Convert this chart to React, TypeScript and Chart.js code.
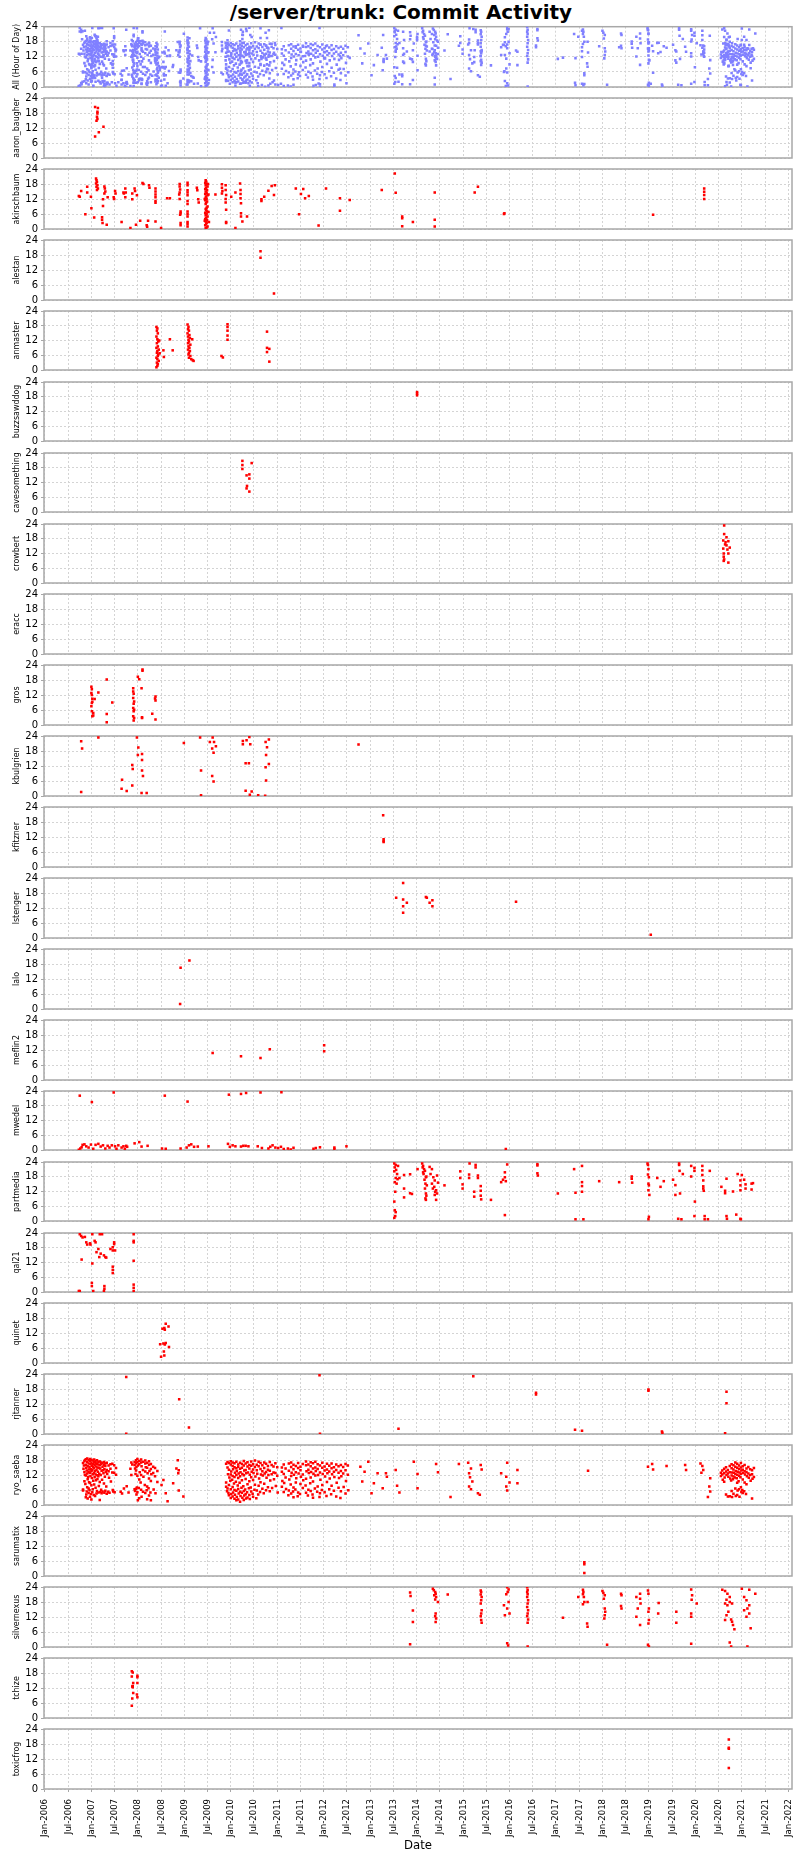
import React, { useEffect, useRef } from 'react';
import { Chart, registerables } from 'chart.js';

Chart.register(...registerables);

// ---------- axis data ----------
const X_MIN = 2005.98;
const X_MAX = 2022.08;
const X_TICK_VALUES = [
  2006, 2006.5, 2007, 2007.5, 2008, 2008.5, 2009, 2009.5, 2010, 2010.5, 2011, 2011.5,
  2012, 2012.5, 2013, 2013.5, 2014, 2014.5, 2015, 2015.5, 2016, 2016.5, 2017, 2017.5,
  2018, 2018.5, 2019, 2019.5, 2020, 2020.5, 2021, 2021.5, 2022,
];
const X_TICK_LABELS = [
  'Jan-2006', 'Jul-2006', 'Jan-2007', 'Jul-2007', 'Jan-2008', 'Jul-2008', 'Jan-2009', 'Jul-2009',
  'Jan-2010', 'Jul-2010', 'Jan-2011', 'Jul-2011', 'Jan-2012', 'Jul-2012', 'Jan-2013', 'Jul-2013',
  'Jan-2014', 'Jul-2014', 'Jan-2015', 'Jul-2015', 'Jan-2016', 'Jul-2016', 'Jan-2017', 'Jul-2017',
  'Jan-2018', 'Jul-2018', 'Jan-2019', 'Jul-2019', 'Jan-2020', 'Jul-2020', 'Jan-2021', 'Jul-2021',
  'Jan-2022',
];
const Y_TICKS = [0, 6, 12, 18, 24];

const TITLE = '/server/trunk: Commit Activity';
const ALL_LABEL = 'All (Hour of Day)';
const X_TITLE = 'Date';

const AUTHORS = [
  'aaron_baugher', 'akirschbaum', 'alestan', 'anmaster', 'buzzsawddog', 'cavesomething',
  'crowbert', 'eracc', 'gros', 'kbulgrien', 'kfitzner', 'lstenger', 'lalo', 'meflin2',
  'mwedel', 'partmedia', 'qal21', 'quinet', 'rjtanner', 'ryo_saeba', 'sarumatix',
  'silvernexus', 'tchize', 'toxicfrog',
];

// ---------- commit data: [year, hour, year, hour, ...] ----------
const aaronBaugher = [
  2007.08, 20.4, 2007.14, 20.0, 2007.13, 18.5, 2007.13, 17.8, 2007.12, 16.5, 2007.11, 14.9,
  2007.13, 15.6, 2007.26, 12.5, 2007.16, 10.3, 2007.08, 8.6,
];

const akirschbaum = [
  2006.73, 13.2, 2006.75, 12.9, 2006.78, 15.2, 2006.87, 5.9, 2006.91, 16.9, 2006.91, 14.6,
  2006.99, 12.9, 2007.0, 8.3, 2007.06, 4.6,
  2007.1, 20.2, 2007.11, 19.5, 2007.12, 18.8, 2007.1, 18.2, 2007.13, 17.5, 2007.11, 16.9,
  2007.14, 16.2, 2007.12, 15.6,
  2007.23, 4.7, 2007.23, 3.7, 2007.24, 2.4, 2007.25, 11.9, 2007.25, 9.2, 2007.28, 17.0,
  2007.29, 16.2, 2007.3, 15.0, 2007.28, 14.2, 2007.33, 1.7, 2007.35, 12.7,
  2007.48, 12.7, 2007.49, 12.0, 2007.51, 15.2, 2007.52, 14.2, 2007.65, 2.8, 2007.69, 14.6,
  2007.7, 14.2, 2007.73, 16.2, 2007.74, 14.6, 2007.73, 12.7, 2007.84, 0.4, 2007.88, 14.2,
  2007.88, 11.9, 2007.93, 16.2, 2007.94, 15.2, 2007.96, 1.7, 2007.98, 13.5, 2008.05, 3.3,
  2008.1, 18.4, 2008.12, 18.0, 2008.19, 1.5, 2008.2, 0.9, 2008.22, 3.3, 2008.24, 17.5,
  2008.25, 16.5,
  2008.38, 16.2, 2008.38, 15.0, 2008.38, 13.8, 2008.38, 12.7, 2008.38, 11.2, 2008.38, 10.5,
  2008.38, 3.0, 2008.5, 0.4, 2008.63, 12.3, 2008.69, 12.3,
  2008.9, 18.0, 2008.9, 17.0, 2008.91, 15.8, 2008.9, 14.6, 2008.89, 13.8, 2008.9, 12.0,
  2008.92, 7.0, 2008.92, 6.3, 2008.91, 5.7, 2008.92, 2.4, 2008.92, 1.5,
  2009.07, 18.5, 2009.07, 17.5, 2009.07, 15.5, 2009.07, 14.6, 2009.07, 13.5, 2009.07, 11.2,
  2009.07, 10.0, 2009.07, 7.0, 2009.07, 6.0, 2009.07, 5.0, 2009.07, 2.8, 2009.07, 2.0,
  2009.07, 1.0,
  2009.27, 16.5, 2009.28, 15.5, 2009.3, 11.9, 2009.31, 10.6,
  2009.46, 19.5, 2009.47, 19.0, 2009.45, 18.5, 2009.48, 18.0, 2009.46, 17.5, 2009.5, 17.0,
  2009.47, 16.5, 2009.45, 16.0, 2009.49, 15.5, 2009.46, 15.0, 2009.48, 14.5, 2009.45, 14.0,
  2009.5, 13.5, 2009.47, 13.0, 2009.46, 12.5, 2009.48, 12.0, 2009.45, 11.5, 2009.49, 11.0,
  2009.47, 10.5, 2009.46, 10.0, 2009.5, 9.0, 2009.48, 8.5, 2009.46, 8.0, 2009.47, 7.5,
  2009.49, 7.0, 2009.45, 6.5, 2009.48, 6.0, 2009.46, 5.5, 2009.5, 5.0, 2009.47, 4.5,
  2009.45, 4.0, 2009.49, 3.5, 2009.46, 3.0, 2009.48, 2.5, 2009.47, 2.0, 2009.45, 1.5,
  2009.5, 1.0, 2009.48, 0.6, 2009.46, 0.3, 2009.52, 13.8, 2009.52, 6.8, 2009.53, 2.8,
  2009.44, 12.0, 2009.51, 18.0, 2009.44, 3.3,
  2009.67, 13.8, 2009.81, 17.9, 2009.81, 16.5, 2009.82, 15.2, 2009.81, 14.2, 2009.89, 17.5,
  2009.89, 15.6, 2009.9, 13.6, 2009.89, 12.0, 2009.89, 10.6, 2009.9, 7.7, 2009.9, 2.8,
  2009.9, 2.4, 2010.01, 12.9, 2010.1, 14.6, 2010.1, 0.4, 2010.2, 18.2, 2010.21, 15.6,
  2010.21, 14.0, 2010.21, 12.3, 2010.22, 10.3, 2010.22, 6.3, 2010.22, 5.0, 2010.25, 3.0,
  2010.35, 5.0,
  2010.66, 11.9, 2010.66, 11.2, 2010.72, 12.9, 2010.81, 15.3, 2010.88, 17.2, 2010.93, 13.6,
  2010.95, 17.5, 2011.4, 16.2, 2011.47, 5.9, 2011.51, 14.0, 2011.56, 16.0, 2011.6, 12.3,
  2011.68, 13.2, 2011.89, 1.4, 2012.05, 16.2, 2012.35, 12.3, 2012.35, 7.3, 2012.56, 11.6,
  2013.25, 15.6, 2013.53, 22.2, 2013.55, 14.5, 2013.69, 5.0, 2013.69, 4.3, 2013.69, 1.1,
  2013.92, 2.8, 2014.39, 14.6, 2014.39, 3.7, 2014.39, 1.0, 2015.25, 14.6, 2015.32, 16.9,
  2015.88, 6.0, 2015.89, 6.3, 2019.09, 5.7, 2020.19, 16.2, 2020.19, 14.9, 2020.19, 13.6,
  2020.19, 12.0,
];

const alestan = [2010.64, 19.5, 2010.64, 16.9, 2010.93, 2.6];

const anmaster = [
  2008.4, 17.5, 2008.42, 16.9, 2008.41, 16.0, 2008.43, 14.9, 2008.4, 13.6, 2008.42, 12.5,
  2008.44, 11.6, 2008.41, 10.9, 2008.43, 9.6, 2008.4, 9.0, 2008.45, 8.3, 2008.42, 7.7,
  2008.41, 7.0, 2008.44, 6.3, 2008.43, 5.7, 2008.4, 5.0, 2008.42, 4.4, 2008.45, 3.7,
  2008.41, 3.0, 2008.43, 2.4, 2008.42, 1.7, 2008.4, 1.1, 2008.46, 12.0, 2008.47, 6.8,
  2008.69, 12.5, 2008.75, 8.0, 2008.56, 5.3, 2008.55, 8.0,
  2009.07, 18.5, 2009.09, 17.5, 2009.08, 16.6, 2009.1, 16.0, 2009.07, 14.9, 2009.11, 14.2,
  2009.08, 13.6, 2009.12, 13.0, 2009.09, 12.3, 2009.1, 11.6, 2009.08, 10.9, 2009.13, 10.3,
  2009.09, 9.6, 2009.11, 9.0, 2009.08, 8.3, 2009.12, 7.7, 2009.1, 7.0, 2009.09, 6.3,
  2009.13, 5.7, 2009.1, 5.0, 2009.15, 4.4, 2009.2, 3.7, 2009.18, 4.0, 2009.17, 12.5,
  2009.8, 5.7, 2009.83, 5.1,
  2009.93, 18.6, 2009.93, 17.5, 2009.93, 16.0, 2009.93, 14.0, 2009.93, 12.3,
  2010.78, 15.6, 2010.78, 9.0, 2010.78, 7.3, 2010.83, 8.6, 2010.83, 3.4,
];

const buzzsawddog = [2014.01, 19.9, 2014.01, 19.3, 2014.01, 18.6];

const cavesomething = [
  2010.25, 20.8, 2010.25, 19.1, 2010.25, 17.5, 2010.45, 19.9, 2010.34, 14.9, 2010.4, 15.3,
  2010.4, 13.6, 2010.35, 10.6, 2010.34, 9.6, 2010.4, 8.3,
];

const crowbert = [
  2020.62, 23.4, 2020.62, 19.9, 2020.6, 17.3, 2020.71, 17.0, 2020.64, 15.7, 2020.67, 15.3,
  2020.74, 14.4, 2020.6, 14.0, 2020.69, 13.6, 2020.61, 12.0, 2020.71, 12.0, 2020.61, 10.7,
  2020.62, 9.6, 2020.71, 8.3, 2020.61, 9.0, 2020.67, 18.6, 2020.65, 16.6,
];

const eracc: number[] = [];

const gros = [
  2007.0, 15.3, 2007.01, 14.3, 2007.01, 12.0, 2007.02, 9.3, 2007.01, 8.8, 2007.0, 7.5,
  2007.01, 5.5, 2007.04, 4.8, 2007.04, 3.8, 2007.02, 3.5, 2007.0, 12.8, 2007.02, 10.5,
  2007.07, 10.4, 2007.15, 13.0, 2007.33, 18.2, 2007.33, 4.4, 2007.33, 1.1, 2007.45, 9.0,
  2007.9, 14.7, 2007.91, 12.5, 2007.9, 10.8, 2007.92, 9.4, 2007.91, 8.5, 2007.9, 6.8,
  2007.92, 6.1, 2007.91, 5.5, 2007.9, 3.5, 2007.92, 2.8, 2007.91, 1.8, 2007.9, 13.4,
  2008.0, 19.3, 2008.03, 18.3, 2008.1, 22.2, 2008.1, 21.7, 2008.08, 14.7, 2008.09, 3.1,
  2008.09, 2.8, 2008.31, 4.5, 2008.38, 11.4, 2008.38, 9.8, 2008.38, 2.2, 2008.37, 10.6,
];

const kbulgrien = [
  2006.78, 21.9, 2006.8, 19.0, 2006.78, 1.6, 2007.15, 23.4, 2007.66, 6.5, 2007.65, 2.9,
  2007.76, 2.0, 2007.88, 4.2, 2007.88, 12.4, 2007.89, 10.8, 2007.98, 23.4, 2008.01, 19.4,
  2008.0, 16.4, 2008.09, 16.8, 2008.09, 14.4, 2008.09, 10.2, 2008.11, 8.0, 2008.08, 1.2,
  2008.19, 1.2, 2008.99, 21.2, 2009.34, 23.4, 2009.36, 10.2, 2009.36, 0.3, 2009.55, 21.6,
  2009.61, 23.4, 2009.64, 21.6, 2009.68, 19.9, 2009.6, 19.0, 2009.63, 17.3, 2009.6, 8.0,
  2009.63, 5.8, 2010.26, 22.0, 2010.26, 20.7, 2010.34, 22.3, 2010.4, 23.6, 2010.42, 20.7,
  2010.39, 13.1, 2010.32, 13.1, 2010.32, 2.1, 2010.45, 1.8, 2010.41, 0.5, 2010.59, 0.3,
  2010.75, 21.6, 2010.82, 22.6, 2010.78, 19.5, 2010.76, 16.4, 2010.82, 12.8, 2010.75, 11.5,
  2010.76, 6.2, 2010.74, 0.1, 2012.75, 20.6,
];

const kfitzner = [2013.28, 20.7, 2013.29, 11.1, 2013.29, 10.4, 2013.29, 10.0];

const lstenger = [
  2013.71, 22.0, 2013.56, 16.1, 2013.71, 15.4, 2013.79, 14.1, 2013.71, 12.7, 2013.71, 10.1,
  2014.2, 16.4, 2014.22, 16.1, 2014.34, 15.1, 2014.28, 14.1, 2014.34, 12.7, 2016.14, 14.5,
  2019.04, 1.3,
];

const lalo = [2009.11, 19.4, 2008.92, 16.5, 2008.91, 2.0];

const meflin2 = [2009.61, 10.8, 2010.22, 9.5, 2010.64, 8.8, 2010.84, 12.3, 2012.01, 13.9, 2012.01, 11.5];

const mwedel = [
  2006.73, 0.1, 2006.76, 0.6, 2006.79, 1.1, 2006.81, 2.1, 2006.85, 2.3, 2006.89, 1.5,
  2006.94, 1.0, 2006.99, 2.2, 2007.04, 0.5, 2007.09, 2.1, 2007.15, 2.5, 2007.2, 1.4,
  2007.25, 1.9, 2007.3, 0.6, 2007.35, 1.7, 2007.39, 1.0, 2007.44, 1.9, 2007.51, 1.5,
  2007.54, 0.5, 2007.58, 1.9, 2007.65, 1.0, 2007.69, 1.5, 2007.72, 0.5, 2007.75, 1.7,
  2007.77, 1.3, 2007.93, 2.7, 2008.03, 3.2, 2008.08, 1.4, 2008.21, 1.7, 2008.52, 0.6,
  2008.6, 0.5, 2008.92, 0.6, 2009.05, 1.0, 2009.1, 1.9, 2009.15, 2.3, 2009.21, 1.3,
  2009.29, 1.4, 2009.52, 1.5, 2009.94, 2.5, 2009.98, 1.3, 2010.04, 1.9, 2010.1, 1.5,
  2010.22, 1.4, 2010.27, 1.7, 2010.32, 1.7, 2010.38, 1.5, 2010.58, 1.5, 2010.67, 0.8,
  2010.81, 0.6, 2010.85, 1.3, 2010.9, 1.9, 2010.96, 1.0, 2011.02, 0.8, 2011.08, 1.3,
  2011.14, 0.4, 2011.23, 0.6, 2011.29, 0.2, 2011.35, 0.9, 2011.78, 0.5, 2011.83, 0.8,
  2011.92, 1.1, 2012.23, 1.0, 2012.23, 0.4, 2012.49, 1.5, 2015.92, 0.4,
  2006.75, 22.1, 2007.01, 19.5, 2007.48, 23.4, 2008.58, 22.1, 2009.07, 19.7, 2009.96, 22.5,
  2010.22, 22.8, 2010.33, 23.2, 2010.64, 23.4, 2011.09, 23.5,
];

const partmedia = [
  2013.52, 23.4, 2013.55, 22.8, 2013.53, 21.8, 2013.56, 20.8, 2013.52, 20.2, 2013.58, 19.1,
  2013.55, 17.5, 2013.53, 15.8, 2013.57, 15.2, 2013.54, 11.9, 2013.52, 7.9, 2013.53, 4.4,
  2013.55, 3.6, 2013.54, 2.0, 2013.52, 1.3, 2013.6, 22.4, 2013.59, 17.0,
  2013.63, 17.5, 2013.73, 18.7, 2013.73, 13.2, 2013.73, 9.6, 2013.86, 19.0, 2013.86, 11.3,
  2013.9, 11.0, 2014.02, 21.1,
  2014.12, 23.4, 2014.14, 22.4, 2014.13, 21.8, 2014.16, 21.1, 2014.18, 20.4, 2014.15, 19.1,
  2014.2, 17.8, 2014.17, 16.8, 2014.19, 15.2, 2014.22, 14.5, 2014.18, 13.2, 2014.2, 11.2,
  2014.21, 10.3, 2014.19, 9.2, 2014.2, 8.6, 2014.14, 19.8, 2014.21, 18.1,
  2014.28, 22.0, 2014.33, 21.1, 2014.3, 19.1, 2014.36, 17.8, 2014.39, 16.5, 2014.33, 15.2,
  2014.38, 13.9, 2014.42, 12.5, 2014.4, 11.9, 2014.44, 11.2, 2014.39, 10.6, 2014.42, 8.6,
  2014.44, 18.5, 2014.46, 15.6, 2014.35, 13.2,
  2014.6, 14.5, 2014.94, 20.2, 2014.94, 17.5, 2014.99, 14.9, 2014.99, 13.2, 2015.14, 23.4,
  2015.13, 18.9, 2015.13, 17.5, 2015.27, 22.8, 2015.27, 21.8, 2015.32, 18.5, 2015.32, 17.5,
  2015.24, 11.9, 2015.24, 9.9, 2015.38, 14.2, 2015.38, 12.3, 2015.38, 10.3, 2015.39, 8.8,
  2015.6, 8.6,
  2015.82, 15.8, 2015.86, 16.8, 2015.9, 17.8, 2015.9, 19.8, 2015.95, 23.0, 2015.92, 16.2,
  2015.9, 2.4,
  2016.6, 23.1, 2016.6, 22.6, 2016.6, 19.4, 2016.61, 18.5,
  2017.04, 11.2, 2017.39, 21.1, 2017.42, 11.5, 2017.42, 0.7, 2017.56, 22.4, 2017.56, 15.8,
  2017.56, 14.2, 2017.56, 11.9, 2017.59, 0.7,
  2017.93, 16.2, 2018.36, 15.8, 2018.63, 18.1, 2018.63, 17.2, 2018.64, 15.6,
  2018.97, 23.4, 2018.98, 22.8, 2018.99, 21.1, 2018.98, 18.9, 2019.0, 17.8, 2018.99, 15.2,
  2019.0, 14.5, 2018.99, 12.5, 2019.01, 10.6, 2019.0, 1.7, 2018.99, 0.7,
  2019.18, 17.5, 2019.25, 13.9, 2019.32, 16.2, 2019.52, 16.8, 2019.57, 14.6, 2019.57, 10.6,
  2019.65, 23.4, 2019.65, 22.8, 2019.66, 20.4, 2019.67, 11.2, 2019.63, 0.9, 2019.7, 0.7,
  2019.73, 19.1,
  2019.91, 22.4, 2019.91, 18.1, 2019.98, 21.6, 2019.98, 20.4, 2019.99, 7.9, 2019.98, 2.0,
  2020.15, 22.4, 2020.15, 20.6, 2020.15, 18.7, 2020.17, 16.5, 2020.17, 14.1, 2020.17, 13.2,
  2020.18, 12.3, 2020.2, 2.0, 2020.2, 0.7, 2020.27, 0.7, 2020.31, 20.4,
  2020.56, 13.9, 2020.64, 12.3, 2020.64, 11.3, 2020.67, 17.2, 2020.67, 2.0, 2020.68, 0.9,
  2020.81, 12.0, 2020.88, 2.6, 2020.91, 19.1, 2021.0, 18.7, 2020.97, 16.5, 2020.97, 14.5,
  2020.97, 12.5, 2020.97, 0.9, 2020.98, 0.7, 2021.05, 16.8, 2021.08, 14.9, 2021.08, 13.2,
  2021.21, 15.2, 2021.21, 12.8, 2021.24, 15.4,
];

const qal21 = [
  2006.75, 23.5, 2006.78, 22.8, 2006.81, 22.2, 2006.79, 13.2, 2006.75, 0.4, 2006.73, 0.4,
  2006.86, 22.4, 2006.89, 20.2, 2006.91, 19.3, 2006.97, 19.8, 2006.98, 19.3,
  2007.02, 23.5, 2007.02, 11.6, 2007.01, 3.7, 2007.01, 2.4, 2007.04, 0.4,
  2007.07, 20.8, 2007.09, 20.2, 2007.11, 16.2, 2007.15, 17.5, 2007.18, 23.5, 2007.17, 14.2,
  2007.2, 15.6, 2007.23, 23.5, 2007.27, 14.9, 2007.3, 14.2, 2007.28, 2.4, 2007.28, 1.3,
  2007.27, 0.4, 2007.32, 14.0, 2007.41, 17.5, 2007.46, 16.9, 2007.46, 18.2, 2007.49, 20.2,
  2007.49, 19.5, 2007.51, 16.9, 2007.46, 10.3, 2007.46, 9.0, 2007.46, 7.7,
  2007.91, 23.5, 2007.91, 20.8, 2007.91, 20.2, 2007.91, 12.7, 2007.91, 3.0, 2007.91, 1.7,
  2007.91, 0.4,
];

const quinet = [
  2008.5, 2.5, 2008.57, 3.0, 2008.56, 4.6, 2008.48, 7.5, 2008.55, 7.8, 2008.58, 7.4,
  2008.6, 8.0, 2008.67, 6.4, 2008.53, 13.7, 2008.58, 13.3, 2008.6, 15.7, 2008.66, 14.6,
  2008.57, 14.0,
];

const rjtanner = [
  2007.75, 22.8, 2007.75, 0.1, 2011.91, 23.5, 2011.92, 0.1, 2015.22, 23.1, 2008.89, 13.9,
  2009.1, 2.6, 2013.61, 2.1, 2016.57, 16.5, 2016.57, 15.8, 2017.41, 1.7, 2017.56, 1.3,
  2018.99, 17.8, 2018.99, 17.3, 2019.28, 1.0, 2019.29, 0.5, 2020.67, 16.9, 2020.67, 12.3,
  2020.64, 0.3,
];

const ryoSaeba = [
  // 2006-2007
  2006.82, 6.2, 2006.82, 5.8, 2006.83, 14.5, 2006.82, 16.8,
  2006.85, 17.5, 2006.85, 13.2, 2006.86, 12.1, 2006.85, 9.5, 2006.84, 15.8, 2006.86, 17.9,
  2006.88, 18.3, 2006.88, 16.1, 2006.89, 14.9, 2006.88, 11.8, 2006.87, 8.4, 2006.89, 4.2, 2006.88, 3.1,
  2006.91, 18.6, 2006.91, 17.2, 2006.92, 15.5, 2006.9, 13.8, 2006.91, 12.6, 2006.92, 10.3, 2006.91, 7.1,
  2006.9, 5.4, 2006.92, 2.6,
  2006.94, 18.0, 2006.94, 16.6, 2006.95, 14.2, 2006.94, 13.1, 2006.93, 11.2, 2006.95, 9.1, 2006.94, 6.6,
  2006.94, 4.8,
  2006.97, 18.4, 2006.97, 17.7, 2006.98, 16.3, 2006.96, 15.1, 2006.97, 12.9, 2006.98, 11.6, 2006.97, 8.8,
  2006.96, 5.9, 2006.97, 3.3,
  2007.0, 18.1, 2007.0, 16.9, 2007.01, 15.7, 2006.99, 14.4, 2007.0, 13.5, 2007.01, 10.8, 2007.0, 7.9,
  2006.99, 4.4, 2007.0, 2.2,
  2007.03, 17.8, 2007.03, 16.4, 2007.04, 15.2, 2007.02, 13.9, 2007.03, 12.3, 2007.04, 9.7, 2007.03, 6.3,
  2007.02, 5.1,
  2007.06, 18.2, 2007.06, 17.1, 2007.07, 16.0, 2007.05, 14.7, 2007.06, 12.8, 2007.07, 11.1, 2007.06, 8.2,
  2007.05, 4.0,
  2007.09, 17.6, 2007.09, 16.7, 2007.1, 15.4, 2007.08, 13.6, 2007.09, 12.2, 2007.1, 9.9, 2007.09, 6.9,
  2007.08, 3.6,
  2007.12, 17.9, 2007.12, 16.5, 2007.13, 15.0, 2007.11, 14.1, 2007.12, 11.9, 2007.13, 10.4, 2007.12, 5.6,
  2007.11, 4.6,
  2007.15, 17.3, 2007.15, 16.2, 2007.16, 14.8, 2007.14, 13.3, 2007.15, 11.5, 2007.16, 7.6, 2007.15, 5.0,
  2007.18, 17.4, 2007.18, 15.9, 2007.19, 14.6, 2007.17, 12.5, 2007.18, 9.2, 2007.19, 5.2, 2007.18, 2.0,
  2007.21, 17.0, 2007.21, 16.4, 2007.22, 13.7, 2007.2, 12.0, 2007.21, 6.1, 2007.22, 4.7,
  2007.24, 16.8, 2007.24, 15.3, 2007.25, 13.9, 2007.23, 10.1, 2007.24, 5.4,
  2007.27, 17.2, 2007.27, 16.0, 2007.28, 14.3, 2007.26, 12.7, 2007.27, 8.6, 2007.28, 4.9,
  2007.3, 16.6, 2007.3, 15.6, 2007.31, 13.2, 2007.29, 11.3, 2007.3, 5.7,
  2007.33, 16.9, 2007.33, 14.0, 2007.34, 12.4, 2007.32, 7.4, 2007.33, 4.5,
  2007.37, 15.8, 2007.37, 13.5, 2007.38, 10.9, 2007.36, 5.3, 2007.39, 4.9,
  2007.41, 16.3, 2007.41, 14.5, 2007.42, 9.4,
  2007.45, 16.5, 2007.45, 13.0, 2007.46, 6.0, 2007.47, 5.4,
  2007.49, 15.9, 2007.49, 12.9, 2007.5, 5.1, 2007.53, 14.8, 2007.53, 12.1,
  2007.63, 5.3, 2007.66, 4.6, 2007.7, 6.6, 2007.76, 7.5, 2007.8, 5.0, 2007.84, 14.5,
  2007.86, 17.0, 2007.86, 12.0, 2007.88, 16.2,
  // 2008
  2007.93, 17.2, 2007.93, 16.0, 2007.94, 14.6, 2007.93, 6.3, 2007.94, 5.6,
  2007.96, 17.9, 2007.96, 16.7, 2007.97, 15.2, 2007.96, 13.8, 2007.95, 12.4, 2007.96, 6.5, 2007.97, 4.2,
  2007.99, 18.4, 2007.99, 17.1, 2008.0, 15.8, 2007.99, 11.7, 2007.98, 7.0, 2007.99, 5.1, 2008.0, 1.9,
  2008.03, 17.6, 2008.03, 16.3, 2008.04, 13.1, 2008.03, 10.2, 2008.02, 6.8, 2008.03, 2.7,
  2008.07, 18.2, 2008.07, 17.0, 2008.08, 15.5, 2008.07, 12.0, 2008.06, 9.0, 2008.07, 6.1, 2008.08, 3.3,
  2008.11, 17.3, 2008.11, 14.0, 2008.12, 11.3, 2008.11, 5.3,
  2008.16, 17.8, 2008.16, 16.6, 2008.17, 15.1, 2008.16, 13.4, 2008.15, 8.0, 2008.16, 4.8,
  2008.2, 16.9, 2008.2, 14.9, 2008.21, 12.7, 2008.2, 7.4, 2008.19, 5.9, 2008.2, 2.3,
  2008.24, 17.5, 2008.24, 16.1, 2008.25, 13.6, 2008.24, 10.6, 2008.23, 6.7, 2008.24, 3.8,
  2008.28, 16.4, 2008.28, 14.4, 2008.29, 12.3, 2008.28, 9.6, 2008.27, 5.0, 2008.28, 1.9,
  2008.33, 15.3, 2008.33, 12.8, 2008.34, 6.2, 2008.37, 14.8, 2008.37, 11.5, 2008.38, 4.7,
  2008.42, 13.6, 2008.42, 9.2,
  2008.51, 8.0, 2008.55, 10.0, 2008.6, 4.7, 2008.64, 1.5, 2008.76, 8.7, 2008.83, 14.6,
  2008.86, 17.9, 2008.87, 12.7, 2008.88, 13.9, 2008.88, 5.8, 2008.98, 3.4,
  // 2010
  2009.9, 16.5, 2009.9, 9.0, 2009.9, 7.3,
  2009.93, 17.2, 2009.93, 15.0, 2009.94, 12.3, 2009.93, 6.6, 2009.92, 5.5,
  2009.96, 16.8, 2009.96, 14.1, 2009.97, 11.0, 2009.96, 8.0, 2009.95, 4.8, 2009.96, 3.9,
  2010.0, 17.5, 2010.0, 16.2, 2010.01, 13.4, 2010.0, 12.2, 2009.99, 9.7, 2010.0, 6.3, 2010.01, 4.4, 2010.0, 2.8,
  2010.04, 17.0, 2010.04, 15.6, 2010.05, 14.3, 2010.04, 11.6, 2010.03, 10.1, 2010.04, 7.2, 2010.05, 5.0, 2010.04, 3.4,
  2010.08, 16.7, 2010.08, 15.1, 2010.09, 12.9, 2010.08, 11.2, 2010.07, 8.6, 2010.08, 6.0, 2010.09, 4.1, 2010.08, 2.5,
  2010.12, 17.3, 2010.12, 14.7, 2010.13, 13.6, 2010.12, 12.0, 2010.11, 9.3, 2010.12, 5.7, 2010.13, 3.2, 2010.12, 1.9,
  2010.16, 16.2, 2010.16, 15.3, 2010.17, 12.6, 2010.16, 10.8, 2010.15, 7.8, 2010.16, 6.4, 2010.17, 4.6, 2010.16, 2.2,
  2010.2, 16.9, 2010.2, 14.5, 2010.21, 13.1, 2010.2, 11.5, 2010.19, 8.9, 2010.2, 5.3, 2010.21, 3.6, 2010.2, 1.3,
  2010.24, 16.4, 2010.24, 14.9, 2010.25, 12.4, 2010.24, 9.9, 2010.23, 6.9, 2010.24, 4.9, 2010.25, 2.9,
  2010.28, 17.6, 2010.28, 15.8, 2010.29, 13.8, 2010.28, 11.9, 2010.27, 7.5, 2010.28, 5.6, 2010.29, 3.8, 2010.28, 2.0,
  2010.32, 16.6, 2010.32, 14.0, 2010.33, 12.7, 2010.32, 10.4, 2010.31, 6.2, 2010.32, 4.3, 2010.33, 2.6,
  2010.36, 17.1, 2010.36, 15.4, 2010.37, 13.0, 2010.36, 8.3, 2010.35, 5.1, 2010.36, 3.0,
  2010.4, 16.0, 2010.4, 14.6, 2010.41, 12.1, 2010.4, 9.5, 2010.39, 6.7, 2010.4, 4.0, 2010.41, 2.4,
  2010.44, 17.4, 2010.44, 15.7, 2010.45, 13.3, 2010.44, 11.1, 2010.43, 7.0, 2010.44, 5.4,
  2010.48, 16.3, 2010.48, 14.2, 2010.49, 12.8, 2010.48, 10.0, 2010.47, 4.5, 2010.48, 3.3,
  2010.52, 17.8, 2010.52, 15.2, 2010.53, 11.4, 2010.52, 8.1, 2010.51, 6.1,
  2010.56, 16.1, 2010.56, 13.9, 2010.57, 12.5, 2010.56, 5.8, 2010.55, 2.7,
  2010.6, 17.3, 2010.6, 15.5, 2010.61, 10.6, 2010.6, 7.7, 2010.59, 4.2,
  2010.64, 16.8, 2010.64, 14.4, 2010.65, 12.2, 2010.64, 9.1, 2010.63, 5.2,
  2010.68, 15.9, 2010.68, 13.5, 2010.69, 11.8, 2010.68, 6.5,
  2010.72, 17.0, 2010.72, 14.8, 2010.73, 12.6, 2010.72, 8.5, 2010.71, 4.7,
  2010.76, 16.5, 2010.76, 13.2, 2010.77, 10.9, 2010.76, 5.9,
  2010.8, 15.6, 2010.8, 14.1, 2010.81, 12.0, 2010.8, 7.1,
  2010.84, 17.2, 2010.84, 13.7, 2010.85, 9.8, 2010.84, 5.5,
  2010.88, 16.0, 2010.88, 12.3, 2010.89, 6.8, 2010.92, 15.4, 2010.92, 13.0, 2010.93, 10.3,
  2010.96, 16.7, 2010.96, 12.8, 2010.97, 7.6, 2011.0, 15.1, 2011.0, 11.7, 2011.01, 5.0,
  // 2011-2012
  2011.1, 15.0, 2011.1, 13.3, 2011.11, 9.6, 2011.1, 7.3,
  2011.14, 16.2, 2011.14, 12.4, 2011.15, 8.8, 2011.14, 5.2,
  2011.18, 14.6, 2011.18, 11.0, 2011.19, 6.4,
  2011.25, 16.6, 2011.25, 13.7, 2011.26, 10.2, 2011.25, 5.8, 2011.24, 3.9,
  2011.3, 17.0, 2011.3, 15.2, 2011.31, 12.9, 2011.3, 11.6, 2011.29, 8.2, 2011.3, 4.6,
  2011.35, 16.1, 2011.35, 14.3, 2011.36, 12.1, 2011.35, 7.0, 2011.34, 5.4, 2011.35, 3.1,
  2011.4, 15.6, 2011.4, 13.1, 2011.41, 10.7, 2011.4, 9.0, 2011.39, 6.2,
  2011.45, 16.8, 2011.45, 14.8, 2011.46, 12.6, 2011.45, 5.0, 2011.44, 3.5,
  2011.5, 15.3, 2011.5, 13.9, 2011.51, 11.3, 2011.5, 8.4, 2011.49, 4.4,
  2011.55, 16.4, 2011.55, 12.2, 2011.56, 9.9, 2011.55, 6.8,
  2011.62, 17.4, 2011.62, 15.9, 2011.63, 13.5, 2011.62, 10.5, 2011.61, 7.8, 2011.62, 4.9,
  2011.67, 16.2, 2011.67, 14.1, 2011.68, 12.8, 2011.67, 6.1, 2011.66, 3.8,
  2011.72, 17.1, 2011.72, 15.5, 2011.73, 13.2, 2011.72, 11.0, 2011.71, 8.7, 2011.72, 5.6,
  2011.77, 16.7, 2011.77, 14.6, 2011.78, 12.5, 2011.77, 9.4, 2011.76, 4.2, 2011.77, 2.9,
  2011.82, 17.3, 2011.82, 15.0, 2011.83, 13.6, 2011.82, 11.8, 2011.81, 6.6,
  2011.87, 16.3, 2011.87, 14.4, 2011.88, 12.0, 2011.87, 7.4, 2011.86, 5.3,
  2011.92, 15.8, 2011.92, 13.0, 2011.93, 10.1, 2011.92, 4.7, 2011.91, 3.2,
  2011.97, 16.9, 2011.97, 14.9, 2011.98, 12.4, 2011.97, 8.0, 2011.96, 6.0,
  2012.02, 15.4, 2012.02, 13.8, 2012.03, 11.4, 2012.02, 5.1,
  2012.07, 16.5, 2012.07, 14.2, 2012.08, 12.7, 2012.07, 9.2, 2012.06, 3.6,
  2012.12, 15.7, 2012.12, 13.4, 2012.13, 10.6, 2012.12, 6.3,
  2012.17, 16.6, 2012.17, 14.7, 2012.18, 12.3, 2012.17, 7.7, 2012.16, 4.3,
  2012.22, 15.1, 2012.22, 13.3, 2012.23, 11.2, 2012.22, 5.7,
  2012.27, 16.2, 2012.27, 14.0, 2012.28, 8.9, 2012.27, 3.4,
  2012.32, 15.5, 2012.32, 12.9, 2012.33, 10.8, 2012.32, 6.9,
  2012.37, 16.0, 2012.37, 13.6, 2012.38, 11.5, 2012.37, 5.5, 2012.36, 2.8,
  2012.42, 15.2, 2012.42, 12.6, 2012.43, 7.2,
  2012.47, 16.4, 2012.47, 13.9, 2012.48, 9.6, 2012.47, 4.6,
  2012.52, 15.8, 2012.52, 12.1, 2012.53, 5.9,
  // 2012-2020 sparse
  2012.79, 15.3, 2012.83, 9.4, 2012.88, 13.3, 2012.96, 17.3, 2013.03, 4.7, 2013.08, 8.7,
  2013.16, 12.7, 2013.27, 6.7, 2013.34, 12.7, 2013.36, 11.3, 2013.55, 14.0, 2013.58, 7.7,
  2013.63, 5.0, 2013.94, 17.3, 2014.02, 12.4, 2014.02, 6.7, 2014.42, 16.4, 2014.46, 13.1,
  2014.73, 3.2, 2014.91, 16.4, 2015.11, 16.9, 2015.17, 14.6, 2015.13, 12.7, 2015.15, 11.1,
  2015.2, 9.4, 2015.13, 7.4, 2015.17, 6.3, 2015.32, 4.7, 2015.38, 16.0, 2015.4, 14.2,
  2015.36, 4.1, 2015.82, 12.7, 2015.95, 16.9, 2015.93, 11.3, 2015.93, 7.4, 2015.95, 5.8,
  2016.0, 9.0, 2016.17, 14.0, 2016.17, 8.7, 2017.69, 13.7, 2018.98, 15.3, 2019.07, 16.4,
  2019.09, 14.2, 2019.38, 15.6, 2019.78, 16.0, 2019.8, 14.0, 2020.11, 16.6, 2020.15, 15.6,
  2020.17, 14.0, 2020.13, 12.9, 2020.32, 10.7, 2020.3, 7.4, 2020.32, 5.4, 2020.27, 3.2,
  // 2020-2021
  2020.55, 12.9, 2020.55, 11.6,
  2020.58, 13.8, 2020.58, 12.2, 2020.59, 10.1,
  2020.62, 14.5, 2020.62, 12.7, 2020.63, 11.0, 2020.62, 9.3,
  2020.66, 15.1, 2020.66, 13.4, 2020.67, 12.0, 2020.66, 4.2,
  2020.7, 14.0, 2020.7, 12.6, 2020.71, 11.3, 2020.7, 3.4,
  2020.74, 15.6, 2020.74, 13.1, 2020.75, 10.6, 2020.74, 3.5,
  2020.78, 16.3, 2020.78, 14.7, 2020.79, 13.0, 2020.78, 11.8, 2020.77, 9.8, 2020.78, 5.6, 2020.79, 3.2,
  2020.82, 15.9, 2020.82, 14.2, 2020.83, 12.9, 2020.82, 11.4, 2020.81, 10.3, 2020.82, 4.5,
  2020.86, 17.0, 2020.86, 15.3, 2020.87, 13.6, 2020.86, 12.4, 2020.85, 11.0, 2020.86, 6.6, 2020.87, 3.6,
  2020.9, 16.5, 2020.9, 14.9, 2020.91, 13.3, 2020.9, 12.1, 2020.89, 10.7, 2020.9, 8.9, 2020.91, 5.8, 2020.9, 4.0,
  2020.94, 15.8, 2020.94, 14.4, 2020.95, 13.0, 2020.94, 11.7, 2020.93, 9.5, 2020.94, 6.3, 2020.95, 3.3,
  2020.98, 16.8, 2020.98, 15.0, 2020.99, 13.8, 2020.98, 12.5, 2020.97, 11.1, 2020.98, 7.1, 2020.99, 5.2,
  2021.02, 15.5, 2021.02, 14.1, 2021.03, 12.8, 2021.02, 10.2, 2021.01, 6.0, 2021.02, 4.8,
  2021.06, 16.0, 2021.06, 13.5, 2021.07, 12.2, 2021.06, 9.0, 2021.05, 5.5,
  2021.1, 14.6, 2021.1, 13.2, 2021.11, 11.5, 2021.1, 8.3, 2021.09, 4.4,
  2021.14, 15.2, 2021.14, 12.6, 2021.15, 10.9,
  2021.18, 14.3, 2021.18, 12.0, 2021.19, 9.7,
  2021.22, 13.9, 2021.22, 12.3, 2021.23, 10.5, 2021.22, 2.6,
  2021.26, 14.8, 2021.26, 11.2,
];

const sarumatix = [2017.61, 5.5, 2017.61, 4.7, 2017.61, 1.2];

const silvernexus = [
  2013.86, 21.8, 2013.87, 20.4, 2013.92, 14.6, 2013.92, 10.0, 2013.86, 1.1,
  2014.35, 23.3, 2014.37, 22.7, 2014.4, 22.0, 2014.41, 21.3, 2014.38, 20.7, 2014.42, 20.0,
  2014.4, 19.0, 2014.46, 18.0, 2014.41, 13.4, 2014.4, 12.3, 2014.42, 11.4, 2014.41, 10.0,
  2014.67, 21.0,
  2015.38, 22.6, 2015.39, 22.0, 2015.38, 21.0, 2015.4, 20.0, 2015.39, 18.7, 2015.38, 17.4,
  2015.4, 14.7, 2015.39, 13.4, 2015.38, 12.3, 2015.39, 10.8, 2015.4, 9.7,
  2015.95, 23.9, 2015.98, 23.0, 2015.96, 22.0, 2015.93, 21.1, 2015.98, 18.0, 2015.88, 16.7,
  2015.95, 15.4, 2016.0, 13.4, 2015.9, 12.7, 2015.95, 1.5, 2015.97, 0.6,
  2016.38, 23.9, 2016.39, 22.8, 2016.38, 22.0, 2016.39, 21.1, 2016.38, 20.0, 2016.4, 18.7,
  2016.39, 17.4, 2016.38, 16.0, 2016.4, 14.7, 2016.39, 13.4, 2016.38, 12.3, 2016.4, 11.0,
  2016.39, 9.7, 2016.39, 0.2,
  2017.15, 11.7,
  2017.48, 20.0, 2017.58, 22.9, 2017.59, 22.0, 2017.58, 21.1, 2017.6, 20.0, 2017.61, 18.0,
  2017.68, 18.0, 2017.58, 17.1, 2017.67, 9.4, 2017.68, 8.1,
  2018.0, 22.4, 2018.02, 21.6, 2018.05, 20.7, 2018.03, 19.3, 2018.05, 15.4, 2018.06, 14.1,
  2018.05, 12.7, 2018.04, 11.4, 2018.1, 0.9,
  2018.4, 21.3, 2018.41, 20.7, 2018.4, 16.4, 2018.41, 15.4,
  2018.73, 20.0, 2018.81, 21.3, 2018.81, 19.3, 2018.82, 17.4, 2018.76, 15.4, 2018.73, 12.1,
  2018.81, 8.8,
  2018.98, 22.6, 2018.99, 21.3, 2019.0, 15.4, 2018.99, 14.1, 2019.0, 10.8, 2018.99, 9.4,
  2018.98, 0.9, 2019.0, 0.2,
  2019.21, 17.6, 2019.2, 13.4, 2019.59, 14.1, 2019.59, 9.7,
  2019.91, 23.0, 2019.93, 20.7, 2019.92, 18.9, 2019.91, 13.4, 2019.91, 12.1, 2019.91, 1.3,
  2020.03, 17.4,
  2020.58, 22.9, 2020.64, 22.4, 2020.69, 21.3, 2020.74, 20.0, 2020.67, 18.9, 2020.74, 18.0,
  2020.79, 17.4, 2020.64, 17.4, 2020.69, 16.7, 2020.71, 14.1, 2020.67, 12.7, 2020.64, 10.8,
  2020.77, 11.0, 2020.79, 10.1, 2020.81, 8.8, 2020.84, 7.1, 2020.74, 1.8, 2020.77, 0.2,
  2021.0, 23.3, 2021.16, 22.9, 2021.29, 21.3, 2021.05, 20.0, 2021.1, 18.7, 2021.16, 16.7,
  2021.12, 15.4, 2021.05, 14.7, 2021.16, 13.4, 2021.1, 12.1, 2021.19, 7.5, 2021.12, 0.2,
];

const tchize = [
  2007.87, 18.7, 2007.89, 18.2, 2007.87, 16.6, 2007.99, 16.9, 2007.99, 16.3, 2007.9, 14.0,
  2007.99, 14.0, 2007.88, 12.6, 2007.89, 12.3, 2007.9, 10.0, 2007.98, 9.4, 2007.99, 8.3,
  2007.88, 7.8, 2007.87, 4.9, 2007.89, 12.8,
];

const toxicfrog = [2020.72, 19.8, 2020.72, 16.5, 2020.72, 16.1, 2020.72, 8.4];

const SERIES: number[][] = [
  aaronBaugher, akirschbaum, alestan, anmaster, buzzsawddog, cavesomething, crowbert, eracc,
  gros, kbulgrien, kfitzner, lstenger, lalo, meflin2, mwedel, partmedia, qal21, quinet,
  rjtanner, ryoSaeba, sarumatix, silvernexus, tchize, toxicfrog,
];

// ---------- styles ----------
const ALL_COLOR = '#8080FF';
const AUTHOR_COLOR = '#FF0000';
const GRID_COLOR = '#D4D4D4';
const FRAME_COLOR = '#A8A8A8';
const TEXT_COLOR = '#000000';
const COND = "'DejaVu Sans Condensed', 'DejaVu Sans', sans-serif";

const PANEL_TOP0 = 26.7;
const PANEL_PITCH = 70.9;
const PANEL_H = 60.7;
const PAGE_H = 1860;

function toPoints(arr: number[]) {
  const pts: { x: number; y: number }[] = [];
  for (let k = 0; k + 1 < arr.length; k += 2) pts.push({ x: arr[k], y: arr[k + 1] });
  return pts;
}

const framePlugin = {
  id: 'panelFrame',
  beforeDatasetsDraw(chart: any) {
    const { ctx, chartArea: a } = chart;
    ctx.save();
    ctx.strokeStyle = FRAME_COLOR;
    ctx.lineWidth = 1.5;
    ctx.strokeRect(a.left, a.top, a.right - a.left, a.bottom - a.top);
    ctx.restore();
  },
};

export default function App() {
  const refs = useRef<(HTMLCanvasElement | null)[]>([]);

  const panels = [
    { name: ALL_LABEL, data: SERIES.flat(), color: ALL_COLOR },
    ...AUTHORS.map((n, i) => ({ name: n, data: SERIES[i], color: AUTHOR_COLOR })),
  ];

  const geo = panels.map((_, i) => {
    const T = PANEL_TOP0 + i * PANEL_PITCH;
    const isFirst = i === 0;
    const isLast = i === panels.length - 1;
    const top = isFirst ? 0 : Math.floor(T - 8);
    const bottom = isLast ? PAGE_H : Math.ceil(T + PANEL_H + 8);
    return { T, top, height: bottom - top, isFirst, isLast };
  });

  useEffect(() => {
    const charts: Chart[] = [];
    panels.forEach((p, i) => {
      const canvas = refs.current[i];
      if (!canvas) return;
      const g = geo[i];
      const innerTop = g.T - g.top;
      const below = g.height - innerTop - PANEL_H;
      const chart = new Chart(canvas, {
        type: 'scatter',
        data: {
          datasets: [
            {
              data: toPoints(p.data),
              backgroundColor: p.color,
              borderWidth: 0,
              pointStyle: 'rect',
              pointRadius: 1.8,
              pointHoverRadius: 1.8,
            },
          ],
        },
        options: {
          animation: false,
          responsive: false,
          maintainAspectRatio: false,
          events: [],
          layout: {
            padding: {
              left: 0,
              right: 8,
              top: innerTop,
              bottom: g.isLast ? 0 : below,
            },
          },
          plugins: {
            legend: { display: false },
            tooltip: { enabled: false },
            title: { display: false },
          },
          scales: {
            x: {
              type: 'linear',
              position: 'bottom',
              min: X_MIN,
              max: X_MAX,
              afterBuildTicks: (s: any) => {
                s.ticks = X_TICK_VALUES.map((v) => ({ value: v }));
              },
              afterFit: (s: any) => {
                s.height = g.isLast ? below : 0;
                s.paddingLeft = 0;
                s.paddingRight = 0;
              },
              ticks: {
                display: g.isLast,
                autoSkip: false,
                minRotation: 90,
                maxRotation: 90,
                padding: 7,
                color: TEXT_COLOR,
                font: { family: COND, size: 9.5 },
                callback: (_v: any, idx: number) => X_TICK_LABELS[idx],
              },
              grid: {
                color: GRID_COLOR,
                lineWidth: 1,
                drawTicks: g.isLast,
                tickLength: 3,
                tickColor: FRAME_COLOR,
                tickBorderDash: [],
              },
              border: { display: false, dash: [2, 2] },
              title: {
                display: g.isLast,
                text: X_TITLE,
                color: TEXT_COLOR,
                font: { family: COND, size: 13 },
                padding: { top: 0, bottom: 7 },
              },
            },
            y: {
              min: 0,
              max: 24,
              afterBuildTicks: (s: any) => {
                s.ticks = Y_TICKS.map((v) => ({ value: v }));
              },
              afterFit: (s: any) => {
                s.width = 44;
              },
              ticks: {
                color: TEXT_COLOR,
                padding: 3,
                autoSkip: false,
                font: { family: "'DejaVu Sans', sans-serif", size: 10 },
              },
              grid: {
                color: GRID_COLOR,
                lineWidth: 1,
                drawTicks: true,
                tickLength: 3,
                tickColor: FRAME_COLOR,
                tickBorderDash: [],
              },
              border: { display: false, dash: [2, 2] },
              title: {
                display: true,
                text: p.name,
                color: TEXT_COLOR,
                font: { family: COND, size: 8.8 },
                padding: { top: 11, bottom: 0 },
              },
            },
          },
        } as any,
        plugins: [framePlugin],
      });
      charts.push(chart);
    });
    return () => charts.forEach((c) => c.destroy());
  }, []);

  return (
    <div style={{ position: 'absolute', left: 0, top: 0, width: 800, height: PAGE_H, background: '#ffffff' }}>
      <div
        style={{
          position: 'absolute',
          left: 0,
          top: 0,
          width: 802,
          textAlign: 'center',
          fontFamily: "'DejaVu Sans', sans-serif",
          fontWeight: 'bold',
          fontSize: 20,
          lineHeight: '24px',
          color: TEXT_COLOR,
          whiteSpace: 'nowrap',
        }}
      >
        {TITLE}
      </div>
      {geo.map((g, i) => (
        <canvas
          key={i}
          ref={(el) => {
            refs.current[i] = el;
          }}
          width={800}
          height={g.height}
          style={{ position: 'absolute', left: 0, top: g.top, width: 800, height: g.height }}
        />
      ))}
    </div>
  );
}
